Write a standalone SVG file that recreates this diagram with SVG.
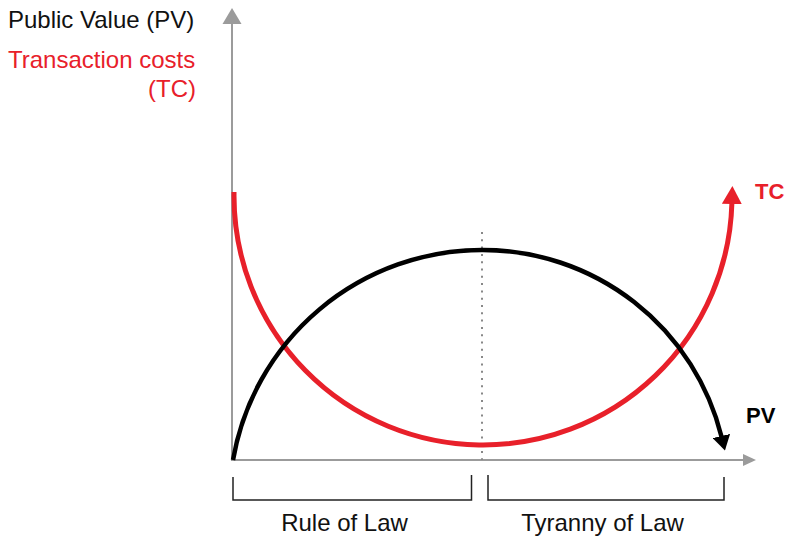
<svg xmlns="http://www.w3.org/2000/svg" width="785" height="539" viewBox="0 0 785 539">
<style>
.axis{stroke:#9b9b9b;stroke-width:2;fill:none}
.lbl{font-family:"Liberation Sans",Arial,sans-serif;font-size:24px;fill:#111}
.red{fill:#e8202a}
.bold{font-family:"Liberation Sans",Arial,sans-serif;font-weight:bold;font-size:22px}
.brk{stroke:#222;stroke-width:1.5;fill:none}
</style>
<defs>
<marker id="arrRed" markerUnits="userSpaceOnUse" viewBox="0 0 18 20" markerWidth="18" markerHeight="20" refX="1" refY="10" orient="auto">
<path d="M0,0 L18,10 L0,20 z" fill="#e8202a"/>
</marker>
<marker id="arrBlack" markerUnits="userSpaceOnUse" viewBox="0 0 15 18" markerWidth="15" markerHeight="18" refX="1" refY="9" orient="auto">
<path d="M0,0 L15,9 L0,18 z" fill="#000"/>
</marker>
</defs>
<g id="axes">
<line class="axis" x1="232" y1="461" x2="232" y2="23"/>
<polygon points="222.5,24 241.5,24 232,8" fill="#9b9b9b"/>
<line class="axis" x1="231" y1="460" x2="744" y2="460"/>
<polygon points="743,454 743,466 756,460" fill="#9b9b9b"/>
</g>
<g id="axis-labels">
<text class="lbl" x="8" y="28">Public Value (PV)</text>
<text class="lbl red" x="8" y="68">Transaction costs</text>
<text class="lbl red" x="196" y="97" text-anchor="end">(TC)</text>
</g>
<g id="connectors">
<line x1="482" y1="232" x2="482" y2="460" stroke="#888" stroke-width="2" stroke-dasharray="2 5.3"/>
<path d="M234,192 L234,195 A249,249 0 0 0 731.9,203" fill="none" stroke="#e8202a" stroke-width="5" marker-end="url(#arrRed)"/>
<path d="M233,460 A253,253 0 0 1 482,250 A246,246 0 0 1 721.6,437" fill="none" stroke="#000" stroke-width="4.5" marker-end="url(#arrBlack)"/>
</g>
<g id="tc-label">
<text class="bold red" x="755" y="199">TC</text>
</g>
<g id="pv-label">
<text class="bold" x="746" y="423" fill="#000">PV</text>
</g>
<g id="rule-of-law">
<path class="brk" d="M233,477 V500 H471.5 V475"/>
<text class="lbl" x="344.5" y="531" text-anchor="middle">Rule of Law</text>
</g>
<g id="tyranny-of-law">
<path class="brk" d="M488,475 V500 H724 V477"/>
<text class="lbl" x="602.5" y="531" text-anchor="middle">Tyranny of Law</text>
</g>
</svg>
